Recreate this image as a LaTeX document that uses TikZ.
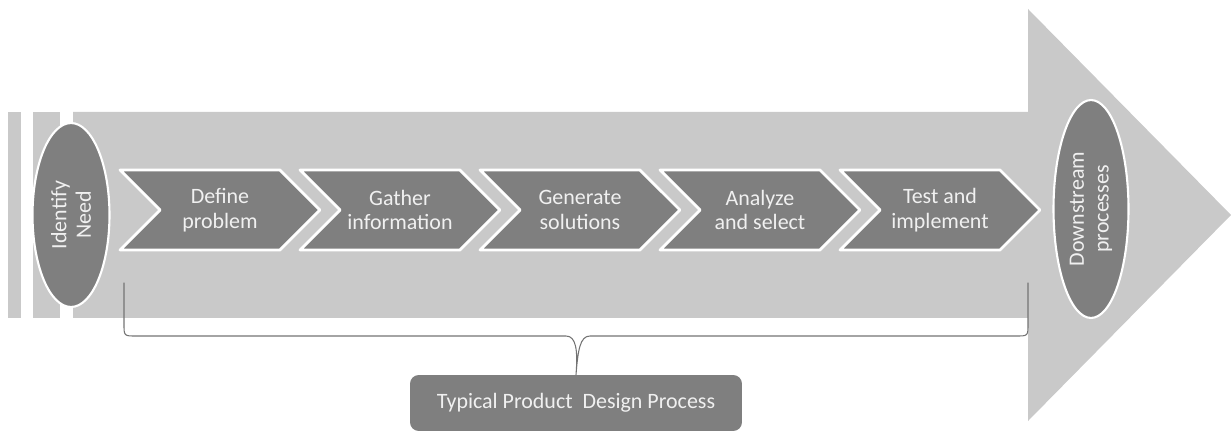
\documentclass[tikz,border=0pt]{standalone}
\usepackage{fontspec}
\setmainfont{Carlito}
\usetikzlibrary{shapes.geometric,shapes.symbols}
\definecolor{pale}{HTML}{C9C9C9}
\definecolor{dark}{HTML}{7F7F7F}
\definecolor{ink}{HTML}{F0F0F0}
\tikzset{
	stage/.style={signal, signal from=west, signal to=east, signal pointer angle=90,
		fill=dark, draw=white, line width=1.6pt, minimum width=4cm, minimum height=1.6cm,
		text=ink, align=center, inner sep=0pt},
	endpoint/.style={ellipse, fill=dark, draw=white, line width=1.2pt, text=ink,
		align=center, rotate=90, inner sep=0pt},
	label/.style={rounded corners=5pt, fill=dark, text=ink, minimum width=6.64cm, minimum height=1.12cm}
}
\begin{document}
\begin{tikzpicture}[x=0.02cm,y=-0.02cm,font=\fontsize{12.5}{14}\selectfont, line join=round, line cap=round]
	\useasboundingbox (0,0) rectangle (1231,432);
	% background arrow
	\fill[pale] (8,112) rectangle (21,318);
	\fill[pale] (33,112) rectangle (60,318);
	\fill[pale] (73,112)--(1028,112)--(1028,9)--(1231,215)--(1028,421)--(1028,318)--(73,318)--cycle;
	\node[endpoint, minimum width=3.68cm, minimum height=1.54cm] (need) at (71,215) {Identify\\Need};
	\node[endpoint, minimum width=4.36cm, minimum height=1.5cm] (down) at (1091,209) {Downstream\\processes};
	\foreach \nm/\txt [count=\i from 0] in {define/{Define\\problem},gather/{Gather\\information},
		generate/{Generate\\solutions},analyze/{Analyze\\and select},test/{Test and\\implement}}{
		\node[stage] (\nm) at (220+180*\i,210) {\txt};}
	\node[label] (typical) at (576,403) {Typical Product~ Design Process};
	% brace
	\coordinate (bl) at (124,283);
	\coordinate (br) at (1028,283);
	\draw[gray!90!black, line width=0.6pt] (bl)--(124,324) .. controls (124,336) .. (136,336)--(566,336)
		.. controls (576,336) and (578,350) .. (typical.north)
		.. controls (578,350) and (580,336) .. (590,336)--(1016,336) .. controls (1028,336) .. (1028,324)--(br);
\end{tikzpicture}
\end{document}
